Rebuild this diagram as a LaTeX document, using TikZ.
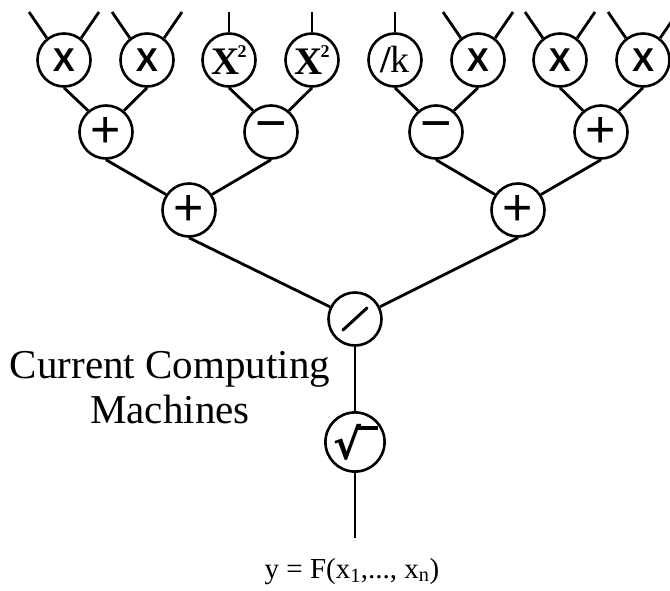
\documentclass[tikz,border=0pt]{standalone}
\usepackage{fontspec}
\setmainfont{Liberation Serif}
\newfontfamily\sansf{Liberation Sans}
\newfontfamily\dejavu{DejaVu Sans}
\begin{document}
\begin{tikzpicture}[x=1pt,y=-1pt,
  op/.style={circle,draw,line width=2.6pt,minimum size=53pt,inner sep=0pt},
  wire/.style={line width=2.8pt},
  lx/.style={font=\sansf\bfseries\fontsize{33}{33}\selectfont},
  lsq/.style={font=\bfseries\fontsize{39}{39}\selectfont},
  lpl/.style={font=\sansf\fontsize{52}{52}\selectfont},
  lmi/.style={font=\sansf\fontsize{54}{54}\selectfont},
  lk/.style={font=\fontsize{38}{38}\selectfont},
  lab/.style={font=\fontsize{41}{45}\selectfont,align=center},
  lout/.style={font=\fontsize{29}{29}\selectfont}]
\useasboundingbox (0,0) rectangle (670,591);
% top row
\node[op,lx]  (a1) at (64,60)  {X};
\node[op,lx]  (a2) at (147,60) {X};
\node[op,lsq] (a3) at (229,60) {X\kern-0.05em\raisebox{0.42em}{\fontsize{18}{18}\selectfont 2}};
\node[op,lsq] (a4) at (312,60) {X\kern-0.05em\raisebox{0.42em}{\fontsize{18}{18}\selectfont 2}};
\node[op,lk]  (a5) at (395,60) {{\bfseries/}\kern-0.02em k};
\node[op,lx]  (a6) at (478,60) {X};
\node[op,lx]  (a7) at (560,60) {X};
\node[op,lx]  (a8) at (643,60) {X};
% level 2
\node[op,lpl] (b1) at (106,132) {+};
\node[op,lmi] (b2) at (271,132) {−};
\node[op,lmi] (b3) at (436,132) {−};
\node[op,lpl] (b4) at (601,132) {+};
% level 3
\node[op,lpl] (c1) at (189,210) {+};
\node[op,lpl] (c2) at (518,210) {+};
% division and root
\node[op] (d) at (355,319) {};
\draw[line width=3pt,line cap=round] (d.center) ++(-12,11) -- ++(24,-22);
\node[op,font=\dejavu\bfseries\fontsize{42}{42}\selectfont] (s) at (355,442)
  {\kern0.05em√\kern-0.1em\rule[0.7em]{0.5em}{0.09em}};
\coordinate (out) at (355,538);
% input wires
\foreach \n in {a1,a2,a6,a7,a8}{
  \path (\n.center) ++(-35,-48) coordinate (\n l);
  \path (\n.center) ++(35,-48) coordinate (\n r);
  \draw[wire] (\n.128) -- (\n l);
  \draw[wire] (\n.52) -- (\n r);
}
\foreach \n in {a3,a4,a5}{
  \path (\n.center) ++(0,-48) coordinate (\n t);
  \draw[wire] (\n.north) -- (\n t);
}
% tree wires
\draw[wire] (a1.south) -- (b1.130);
\draw[wire] (a2.south) -- (b1.50);
\draw[wire] (a3.south) -- (b2.130);
\draw[wire] (a4.south) -- (b2.50);
\draw[wire] (a5.south) -- (b3.130);
\draw[wire] (a6.south) -- (b3.50);
\draw[wire] (a7.south) -- (b4.130);
\draw[wire] (a8.south) -- (b4.50);
\draw[wire] (b1.south) -- (c1.146);
\draw[wire] (b2.south) -- (c1.34);
\draw[wire] (b3.south) -- (c2.146);
\draw[wire] (b4.south) -- (c2.34);
\draw[wire] (c1.south) -- (d.154);
\draw[wire] (c2.south) -- (d.26);
\draw[wire] (d.south) -- (s.north);
\draw[wire] (s.south) -- (out);
% labels
\node[lab] (cc) at (170,388) {Current Computing\\Machines};
\node[lout,anchor=base] (y) at (352,578) {y = F(x\textsubscript{1},..., x\textsubscript{n})};
\end{tikzpicture}
\end{document}
